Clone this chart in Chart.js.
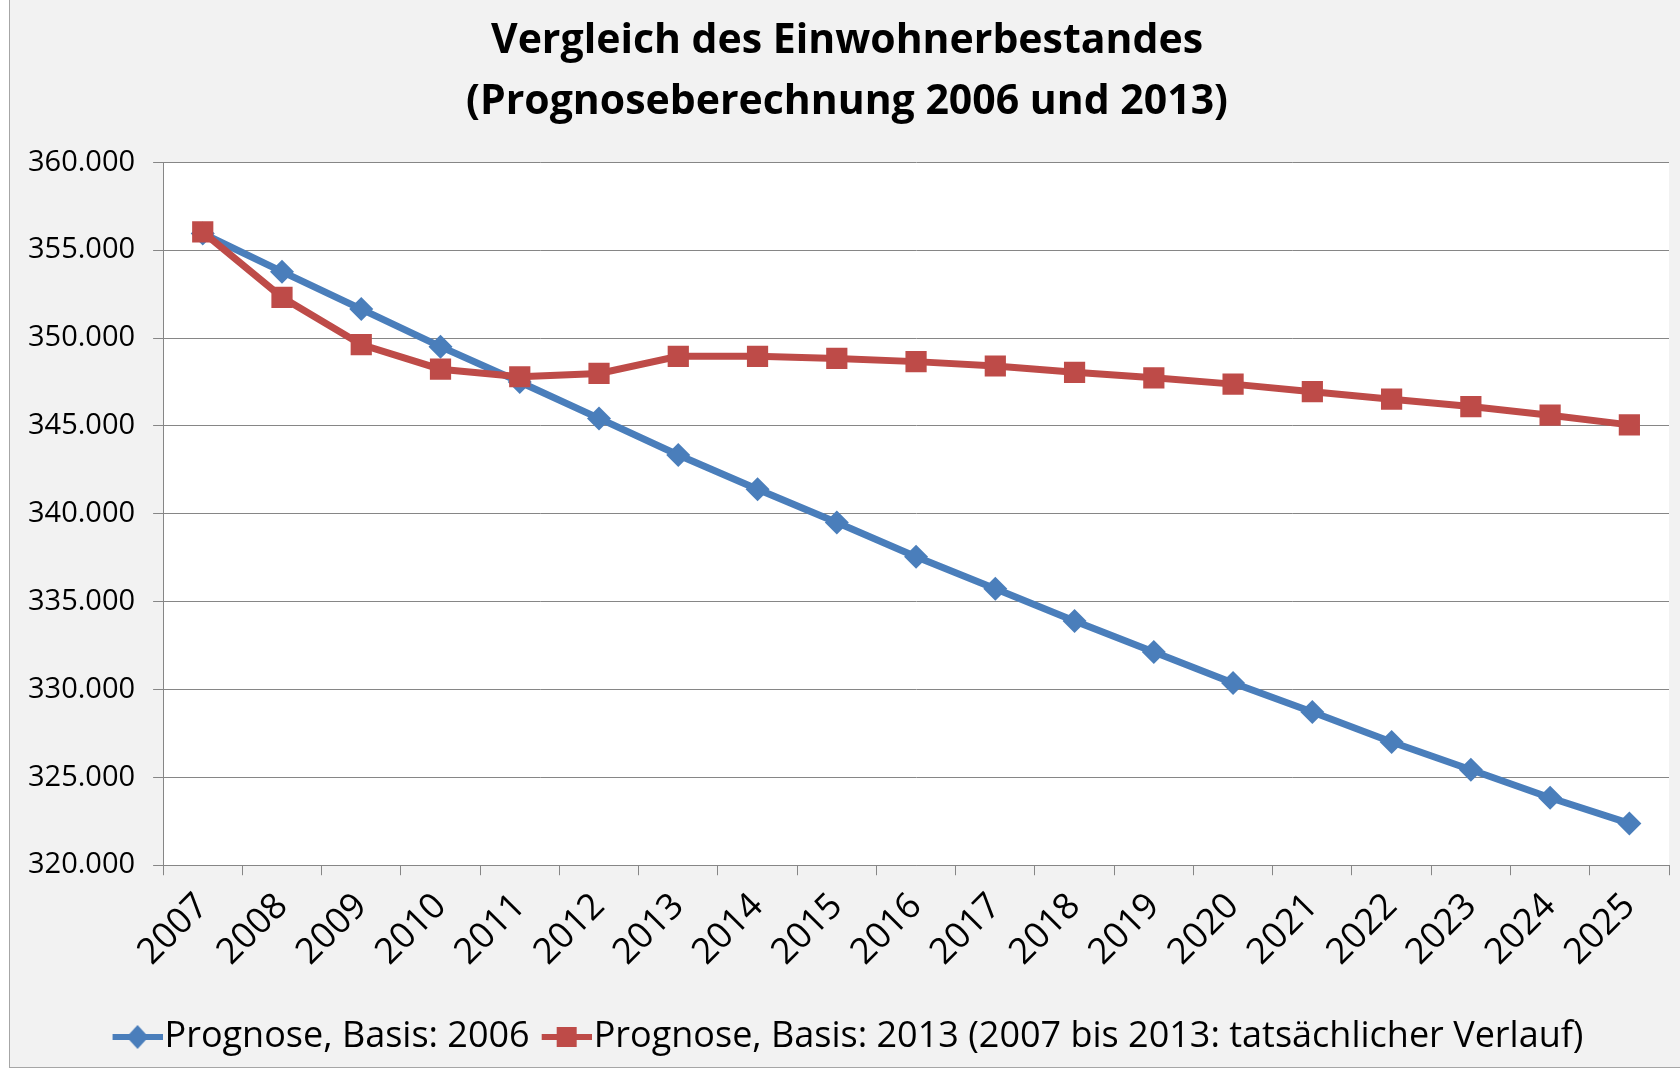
<!DOCTYPE html>
<html>
<head>
<meta charset="utf-8">
<script src="https://cdn.jsdelivr.net/npm/chart.js@4"></script>
<style>
  html, body { margin: 0; padding: 0; background: #ffffff; overflow: hidden; }
  #wrap {
    position: absolute; left: 9px; top: 0; width: 1674px; height: 1067px;
    background: #f2f2f2; border-left: 1px solid #a6a6a6; border-bottom: 1px solid #a6a6a6;
  }
</style>
</head>
<body>
<div id="wrap"><canvas id="chart"></canvas></div>
<script>
const years = ["2007", "2008", "2009", "2010", "2011", "2012", "2013", "2014", "2015", "2016",
    "2017", "2018", "2019", "2020", "2021", "2022", "2023", "2024", "2025"];

const basis2006 = [355950, 353780, 351650, 349510, 347500, 345430, 343350, 341400, 339510, 337560,
    335730, 333900, 332130, 330370, 328720, 327010, 325430, 323840, 322380];

const basis2013 = [356040, 352320, 349630, 348230, 347800, 347990, 348960, 348960, 348840, 348660,
    348410, 348050, 347740, 347380, 346950, 346520, 346100, 345610, 345060];

const seriesNames = ["Prognose, Basis: 2006",
    "Prognose, Basis: 2013 (2007 bis 2013: tatsächlicher Verlauf)"];

const yMin = 320000, yMax = 360000, yStep = 5000;

const BLUE = "#4a7ebb";
const RED = "#be4b48";
const FONT = "'Open Sans', 'Noto Sans', sans-serif";

// legend symbol: short line with the marker in the middle,
// shifted right so it runs up to the label text
function legendIcon(color, shape) {
    const c = document.createElement("canvas");
    c.width = 68; c.height = 26;
    const ctx = c.getContext("2d");
    ctx.strokeStyle = color;
    ctx.fillStyle = color;
    ctx.lineWidth = 6;
    ctx.beginPath();
    ctx.moveTo(18, 13); ctx.lineTo(68, 13);
    ctx.stroke();
    ctx.beginPath();
    if (shape === "diamond") {
        ctx.moveTo(43, 1); ctx.lineTo(54, 13); ctx.lineTo(43, 25); ctx.lineTo(32, 13);
    } else {
        ctx.rect(33, 3, 20, 20);
    }
    ctx.fill();
    return c;
}
const icons = [legendIcon(BLUE, "diamond"), legendIcon(RED, "square")];

// white plot area
const plotBg = {
    id: "plotBg",
    beforeDraw(chart) {
        const a = chart.chartArea;
        const ctx = chart.ctx;
        ctx.save();
        ctx.fillStyle = "#ffffff";
        ctx.fillRect(a.left, a.top, a.right - a.left, a.bottom - a.top);
        ctx.restore();
    },
};

function deNumber(v) {
    return String(Math.round(v)).replace(/\B(?=(\d{3})+(?!\d))/g, ".");
}

new Chart(document.getElementById("chart"), {
    type: "line",
    data: {
        labels: years,
        datasets: [
            {
                label: seriesNames[0],
                data: basis2006,
                borderColor: BLUE,
                backgroundColor: BLUE,
                borderWidth: 7,
                pointStyle: "rectRot",
                pointRadius: 12,
                pointBorderWidth: 0,
                tension: 0,
                order: 1,
            },
            {
                label: seriesNames[1],
                data: basis2013,
                borderColor: RED,
                backgroundColor: RED,
                borderWidth: 7,
                pointStyle: "rect",
                pointRadius: 15,
                pointBorderWidth: 0,
                tension: 0,
                order: 0,
            },
        ],
    },
    plugins: [plotBg],
    options: {
        responsive: true,
        maintainAspectRatio: false,
        animation: false,
        layout: { padding: { left: 0, right: 0, top: 0, bottom: 2 } },
        plugins: {
            title: {
                display: true,
                text: ["Vergleich des Einwohnerbestandes", "(Prognoseberechnung 2006 und 2013)"],
                color: "#000000",
                font: { family: FONT, size: 41, weight: "bold", lineHeight: 1.48 },
                padding: { top: 11, bottom: 30 },
            },
            legend: {
                position: "bottom",
                labels: {
                    color: "#000000",
                    font: { family: FONT, size: 36 },
                    usePointStyle: true,
                    pointStyleWidth: 36,
                    boxHeight: 26,
                    padding: 10,
                    generateLabels(chart) {
                        const items = Chart.defaults.plugins.legend.labels.generateLabels(chart);
                        items.sort((a, b) => a.datasetIndex - b.datasetIndex);
                        items.forEach((it) => { it.pointStyle = icons[it.datasetIndex]; });
                        return items;
                    },
                },
            },
            tooltip: { enabled: false },
        },
        scales: {
            x: {
                offset: true,
                grid: {
                    offset: true,
                    drawOnChartArea: false,
                    drawTicks: true,
                    tickLength: 10,
                    color: "#868686",
                },
                border: { display: true, color: "#868686" },
                ticks: {
                    color: "#000000",
                    font: { family: FONT, size: 36 },
                    minRotation: 45,
                    maxRotation: 45,
                    padding: 10,
                },
                afterFit(scale) { scale.height += 25; },
            },
            y: {
                min: yMin,
                max: yMax,
                grid: {
                    color: "#868686",
                    drawTicks: true,
                    tickLength: 10,
                },
                border: { display: true, color: "#868686" },
                ticks: {
                    stepSize: yStep,
                    color: "#000000",
                    font: { family: FONT, size: 29 },
                    padding: 18,
                    callback: (v) => deNumber(v),
                },
            },
        },
    },
});
</script>
</body>
</html>
